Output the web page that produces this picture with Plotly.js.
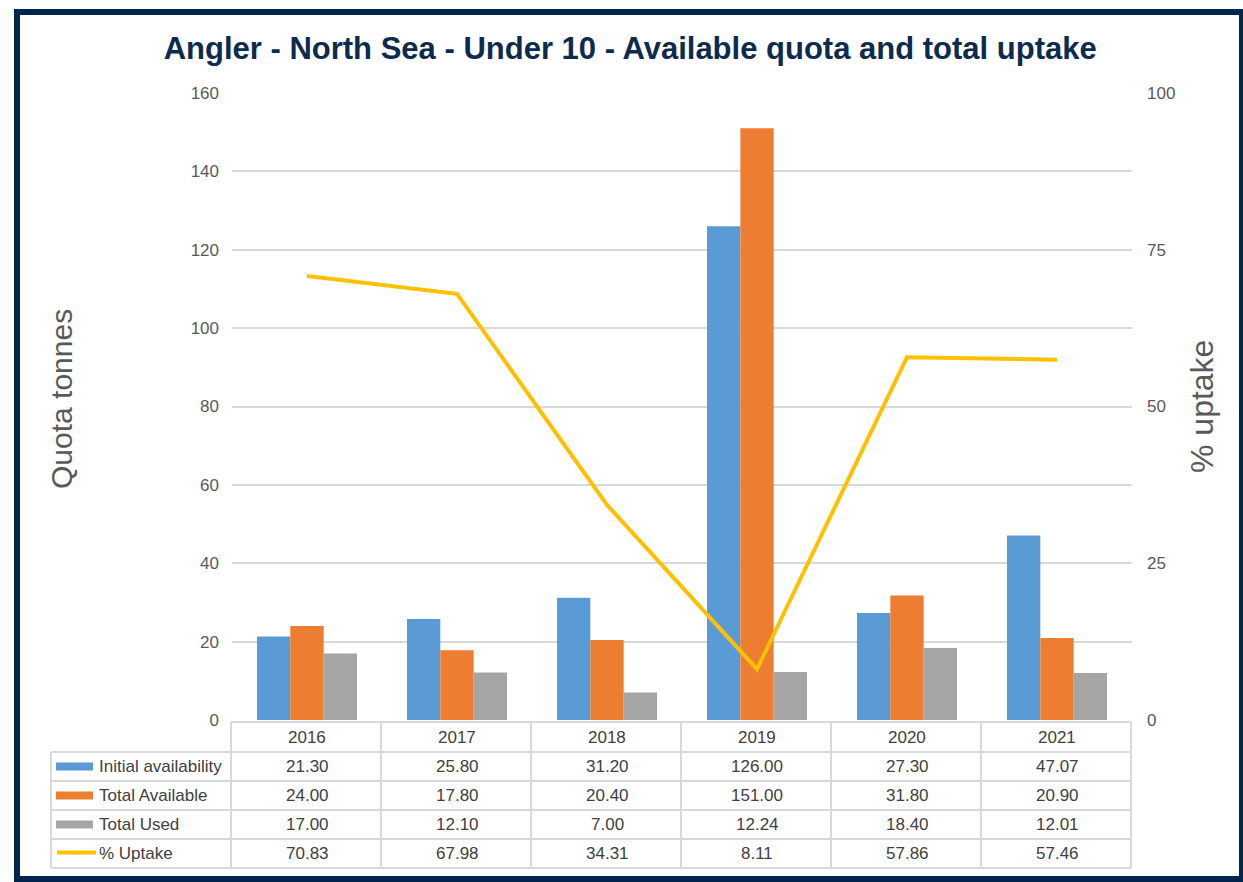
<!DOCTYPE html>
<html>
<head>
<meta charset="utf-8">
<script src="https://cdn.plot.ly/plotly-3.0.1.min.js"></script>
<style>html,body{margin:0;padding:0;background:#fff;}#chart{width:1243px;height:882px;}</style>
</head>
<body>
<div id="chart"></div>
<script>
const years = ["2016","2017","2018","2019","2020","2021"];
const initialAvailability = [21.30, 25.80, 31.20, 126.00, 27.30, 47.07];
const totalAvailable = [24.00, 17.80, 20.40, 151.00, 31.80, 20.90];
const totalUsed = [17.00, 12.10, 7.00, 12.24, 18.40, 12.01];
const pctUptake = [70.83, 67.98, 34.31, 8.11, 57.86, 57.46];
const seriesNames = ["Initial availability", "Total Available", "Total Used", "% Uptake"];

const W = 1243, H = 882;
const L = 232, R = 111, T = 93, B = 162;
const PW = W - L - R, PH = H - T - B;
const px = v => (v - L) / PW;
const py = v => (H - B - v) / PH;

const colors = ["#5B9BD5", "#ED7D31", "#A5A5A5", "#FFC000"];
const font = "Liberation Sans, Arial, sans-serif";
const gridCol = "#D9D9D9";
const textCol = "#404040";

const traces = [
  {type:"bar", name:seriesNames[0], x:years, y:initialAvailability, marker:{color:colors[0]}},
  {type:"bar", name:seriesNames[1], x:years, y:totalAvailable, marker:{color:colors[1]}},
  {type:"bar", name:seriesNames[2], x:years, y:totalUsed, marker:{color:colors[2]}},
  {type:"scatter", mode:"lines", name:seriesNames[3], x:years, y:pctUptake, yaxis:"y2",
   line:{color:colors[3], width:4}}
];

const shapes = [];
const annotations = [];
// outer border
shapes.push({type:"rect", xref:"paper", yref:"paper", x0:px(17), x1:px(1242), y0:py(12), y1:py(879),
  line:{color:"#00264D", width:6}, fillcolor:"rgba(0,0,0,0)"});

// table geometry
const rowLines = [722, 752, 781, 810, 839, 868];
const colLines = [231, 381, 531, 681, 831, 981, 1131];
const labelLeft = 51;
shapes.push({type:"line", xref:"paper", yref:"paper", x0:px(231), x1:px(1131), y0:py(rowLines[0]), y1:py(rowLines[0]), line:{color:gridCol, width:2}});
for (let i = 1; i < rowLines.length; i++) {
  shapes.push({type:"line", xref:"paper", yref:"paper", x0:px(labelLeft), x1:px(1131), y0:py(rowLines[i]), y1:py(rowLines[i]), line:{color:gridCol, width:2}});
}
colLines.forEach(c => {
  shapes.push({type:"line", xref:"paper", yref:"paper", x0:px(c), x1:px(c), y0:py(rowLines[0]), y1:py(868), line:{color:gridCol, width:2}});
});
shapes.push({type:"line", xref:"paper", yref:"paper", x0:px(labelLeft), x1:px(labelLeft), y0:py(752), y1:py(868), line:{color:gridCol, width:2}});

// header years (category index positions)
years.forEach((yr, i) => {
  annotations.push({xref:"x", yref:"paper", x:i, y:py(737), text:yr, showarrow:false,
    font:{family:font, size:17, color:textCol}, xanchor:"center", yanchor:"middle"});
});
const rowCenters = [766.5, 795.5, 824.5, 853.5];
const tableData = [initialAvailability, totalAvailable, totalUsed, pctUptake];
tableData.forEach((arr, r) => {
  arr.forEach((v, i) => {
    annotations.push({xref:"x", yref:"paper", x:i, y:py(rowCenters[r]), text:v.toFixed(2), showarrow:false,
      font:{family:font, size:17, color:textCol}, xanchor:"center", yanchor:"middle"});
  });
  if (r < 3) {
    shapes.push({type:"rect", xref:"paper", yref:"paper", x0:px(56), x1:px(93), y0:py(rowCenters[r]-4), y1:py(rowCenters[r]+4),
      fillcolor:colors[r], line:{width:0}});
  } else {
    shapes.push({type:"line", xref:"paper", yref:"paper", x0:px(57), x1:px(96), y0:py(rowCenters[r]-1), y1:py(rowCenters[r]-1),
      line:{color:colors[r], width:4}});
  }
  annotations.push({xref:"paper", yref:"paper", x:px(97), y:py(rowCenters[r]), text:seriesNames[r], showarrow:false,
    font:{family:font, size:17, color:textCol}, xanchor:"left", yanchor:"middle"});
});

// axis titles
annotations.push({xref:"paper", yref:"paper", x:px(61), y:py(399), text:"Quota tonnes", showarrow:false, textangle:-90,
  font:{family:font, size:30, color:"#595959"}, xanchor:"center", yanchor:"middle"});
annotations.push({xref:"paper", yref:"paper", x:px(1202), y:py(407), text:"% uptake", showarrow:false, textangle:-90,
  font:{family:font, size:32, color:"#595959"}, xanchor:"center", yanchor:"middle"});

const layout = {
  width:W, height:H,
  margin:{l:L, r:R, t:T, b:B, pad:0},
  paper_bgcolor:"#FFFFFF", plot_bgcolor:"#FFFFFF",
  showlegend:false,
  barmode:"group", bargap:0.333, bargroupgap:0,
  title:{text:"<b>Angler - North Sea - Under 10 - Available quota and total uptake</b>",
    font:{family:font, size:31, color:"#0D2B4E"}, x:0.507, xanchor:"center", y:1-48/H, yanchor:"middle"},
  xaxis:{type:"category", range:[-0.5, 5.5], showticklabels:false, showgrid:false, zeroline:false, showline:false, ticks:""},
  yaxis:{range:[0,160], dtick:20, showgrid:true, gridcolor:gridCol, gridwidth:2, zeroline:false, showline:false,
    tickfont:{family:font, size:17, color:"#595959"}, ticks:"", ticklabelstandoff:12},
  yaxis2:{range:[0,100], dtick:25, overlaying:"y", side:"right", showgrid:false, zeroline:false, showline:false,
    tickfont:{family:font, size:17, color:"#595959"}, ticks:"", ticklabelstandoff:14},
  shapes:shapes,
  annotations:annotations
};

Plotly.newPlot("chart", traces, layout, {displayModeBar:false, staticPlot:true});
</script>
</body>
</html>
